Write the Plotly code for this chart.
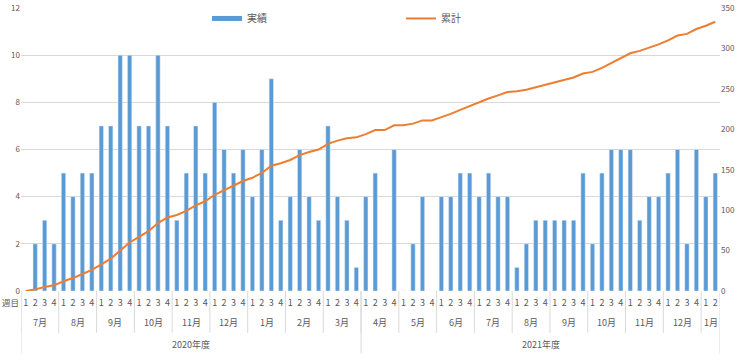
import plotly.graph_objects as go

# ---- data ----
fiscal_years = ["2020年度", "2021年度"]
months = ["7月", "8月", "9月", "10月", "11月", "12月", "1月", "2月", "3月",
          "4月", "5月", "6月", "7月", "8月", "9月", "10月", "11月", "12月", "1月"]
month_weeks = [4] * 18 + [2]
year_month_counts = [9, 10]
week_labels = ["1", "2", "3", "4"] * 18 + ["1", "2"]

actual = [0, 2, 3, 2,  5, 4, 5, 5,  7, 7, 10, 10,  7, 7, 10, 7,  3, 5, 7, 5,
          8, 6, 5, 6,  4, 6, 9, 3,  4, 6, 4, 3,  7, 4, 3, 1,
          4, 5, 0, 6,  0, 2, 4, 0,  4, 4, 5, 5,  4, 5, 4, 4,  1, 2, 3, 3,
          3, 3, 3, 5,  2, 5, 6, 6,  6, 3, 4, 4,  5, 6, 2, 6,  4, 5]
cumulative = [0, 2, 5, 7, 12, 16, 21, 26, 33, 40, 50, 60, 67, 74, 84, 91,
              94, 99, 106, 111, 119, 125, 130, 136, 140, 146, 155, 158,
              162, 168, 172, 175, 182, 186, 189, 190, 194, 199, 199, 205,
              205, 207, 211, 211, 215, 219, 224, 229, 233, 238, 242, 246,
              247, 249, 252, 255, 258, 261, 264, 269, 271, 276, 282, 288,
              294, 297, 301, 305, 310, 316, 318, 324, 328, 333]

GRAY = "#595959"
LINE = "#D9D9D9"
BLUE = "#5B9BD5"
ORANGE = "#ED7D31"
FONT = "Noto Sans CJK JP"
idx = list(range(len(actual)))

fig = go.Figure()
fig.add_trace(go.Bar(x=idx, y=actual, name="実績", marker_color=BLUE,
                     width=0.46, yaxis="y", showlegend=False, legendgroup="a"))
# legend key for the bars (flat rectangle like the original)
fig.add_trace(go.Scatter(x=[None], y=[None], name="実績", mode="lines",
                         line=dict(color=BLUE, width=5), yaxis="y", legendgroup="a"))
fig.add_trace(go.Scatter(x=idx, y=cumulative, name="累計", mode="lines",
                         line=dict(color=ORANGE, width=2), yaxis="y2"))

shapes = []
annotations = []
# month labels and separators
start = 0
for m, n in zip(months, month_weeks):
    annotations.append(dict(x=start + (n - 1) / 2, y=-0.113, xref="x", yref="paper",
                            text=m, showarrow=False, font=dict(size=9, color=GRAY),
                            xanchor="center", yanchor="middle"))
    shapes.append(dict(type="line", xref="x", yref="paper", x0=start - 0.5, x1=start - 0.5,
                       y0=0, y1=-0.148, line=dict(color=LINE, width=1)))
    start += n
# year labels and separators
mstart = 0
wstart = 0
for fy, cnt in zip(fiscal_years, year_month_counts):
    nweeks = sum(month_weeks[mstart:mstart + cnt])
    annotations.append(dict(x=wstart + (nweeks - 1) / 2, y=-0.19, xref="x", yref="paper",
                            text=fy, showarrow=False, font=dict(size=9, color=GRAY),
                            xanchor="center", yanchor="middle"))
    shapes.append(dict(type="line", xref="x", yref="paper", x0=wstart - 0.5, x1=wstart - 0.5,
                       y0=0, y1=-0.22, line=dict(color=LINE, width=1)))
    wstart += nweeks
    mstart += cnt
shapes.append(dict(type="line", xref="x", yref="paper", x0=wstart - 0.5, x1=wstart - 0.5,
                   y0=0, y1=-0.22, line=dict(color=LINE, width=1)))
annotations.append(dict(x=-0.5, y=-0.039, xref="x", yref="paper", text="週目",
                        showarrow=False, font=dict(size=8.5, color=GRAY),
                        xanchor="right", yanchor="middle", xshift=-1,
                        borderpad=0))

fig.update_layout(
    width=750, height=355,
    margin=dict(l=21, r=30, t=8, b=64, autoexpand=False),
    paper_bgcolor="white", plot_bgcolor="white",
    font=dict(family=FONT, size=9, color=GRAY),
    bargap=0.5,
    showlegend=True,
    legend=dict(orientation="h", xref="container", yref="container",
                x=0.276, y=0.948, xanchor="left", yanchor="middle",
                entrywidth=149, entrywidthmode="pixels",
                font=dict(size=10, color=GRAY), bgcolor="rgba(0,0,0,0)"),
    xaxis=dict(range=[-0.5, len(actual) - 0.5], tickmode="array", tickvals=idx,
               ticktext=week_labels, showgrid=False, zeroline=False, ticks="",
               showline=False, tickfont=dict(size=9, color=GRAY), tickangle=0,
               ticklabelstandoff=5),
    yaxis=dict(range=[0, 12], dtick=2, showgrid=True, gridcolor=LINE, gridwidth=1,
               zeroline=False, showline=False, tickfont=dict(size=8, color=GRAY)),
    yaxis2=dict(range=[0, 350], dtick=50, overlaying="y", side="right",
                showgrid=False, zeroline=False, showline=False,
                tickfont=dict(size=8, color=GRAY)),
    shapes=shapes,
    annotations=annotations,
)

fig.write_html("out.html")
